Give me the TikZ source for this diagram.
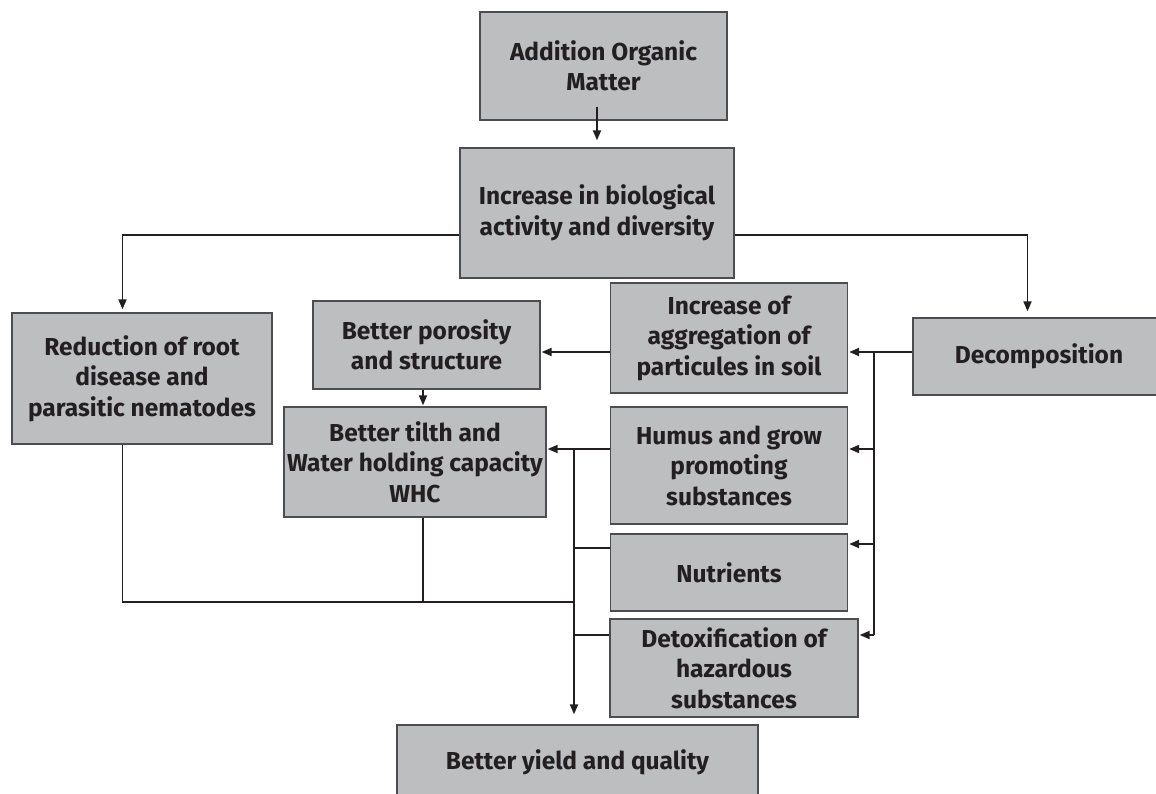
\documentclass[tikz,border=0pt]{standalone}
\usepackage{fontspec}
\setmainfont{Fira Sans}
\usetikzlibrary{arrows.meta,calc}
\definecolor{boxfill}{HTML}{BCBEC0}
\definecolor{boxline}{HTML}{4D4D4F}
\definecolor{ink}{HTML}{231F20}
\begin{document}
\begin{tikzpicture}[x=1pt,y=-1pt,
  box/.style={draw=boxline, line width=1.3pt, fill=boxfill, text=ink, align=center,
    inner sep=0pt, font=\fontsize{24.5}{30.5}\selectfont\bfseries},
  conn/.style={draw=ink, line width=1.8pt},
  arr/.style={conn, -{Triangle[length=10pt,width=8pt]}}]
\path[use as bounding box] (0,0) rectangle (1156,794);
\clip (0,0) rectangle (1156,794);

\node[box, minimum width=247pt, minimum height=108pt] (A) at (603.5,66) {Addition Organic\\Matter};
\node[box, minimum width=274pt, minimum height=130pt] (B) at (597,213) {Increase in biological\\activity and diversity};
\node[box, minimum width=260pt, minimum height=131pt] (R) at (142,378.5) {Reduction of root\\disease and\\parasitic nematodes};
\node[box, minimum width=227pt, minimum height=88pt] (P) at (426.5,345) {Better porosity\\and structure};
\node[box, minimum width=262pt, minimum height=110pt] (W) at (415,462) {Better tilth and\\Water holding capacity\\WHC};
\node[box, minimum width=237pt, minimum height=110pt] (I) at (729,338) {Increase of\\aggregation of\\particules in soil};
\node[box, minimum width=237pt, minimum height=117pt] (H) at (729,465.5) {Humus and grow\\promoting\\substances};
\node[box, minimum width=237pt, minimum height=77pt] (N) at (729,572.5) {Nutrients};
\node[box, minimum width=248pt, minimum height=98pt] (Dt) at (734,668) {Detoxification of\\hazardous\\substances};
\node[box, minimum width=252pt, minimum height=77pt] (Dc) at (1039,356.5) {Decomposition};
\node[box, minimum width=361pt, minimum height=75pt] (Y) at (577.5,762.5) {Better yield and quality};

\coordinate (bl) at (122.5,235);
\coordinate (br) at (1027.5,235);
\coordinate (dy) at (874,352);
\coordinate (dh) at (874,449);
\coordinate (dn) at (874,544);
\coordinate (dd) at (874,635);
\coordinate (pw) at (423,398);
\coordinate (hw) at (574,449);
\coordinate (tn) at (574,548);
\coordinate (td) at (574,635);
\coordinate (hb) at (574,602);
\coordinate (wb) at (423,602);

\draw[arr, shorten <=-14pt, shorten >=7pt] (A.south -| B.north) -- (B.north);
\draw[arr, shorten >=3pt] (B.west |- bl) -| (R.north -| bl);
\draw[arr, shorten >=6pt] (B.east |- br) -| (Dc.north -| br);
\draw[arr, shorten >=1pt] (Dc.west |- dy) -- (I.east |- dy);
\draw[conn] (dy) -- (dd);
\draw[arr, shorten >=1pt] (dh) -- (H.east |- dh);
\draw[arr, shorten >=1pt] (dn) -- (N.east |- dn);
\draw[arr, shorten >=1pt] (dd) -- (Dt.east |- dd);
\draw[arr, shorten >=1pt] (I.west |- dy) -- (P.east |- dy);
\draw[arr, shorten >=1pt] (P.south -| pw) -- (W.north -| pw);
\draw[arr, shorten >=1pt] (H.west |- hw) -- (W.east |- hw);
\draw[arr, shorten >=10pt] (hw) -- (Y.north -| hw);
\draw[conn] (N.west |- tn) -- (tn);
\draw[conn] (Dt.west |- td) -- (td);
\draw[conn] (R.south -| bl) |- (hb);
\draw[conn] (W.south -| wb) -- (wb);
\end{tikzpicture}
\end{document}
